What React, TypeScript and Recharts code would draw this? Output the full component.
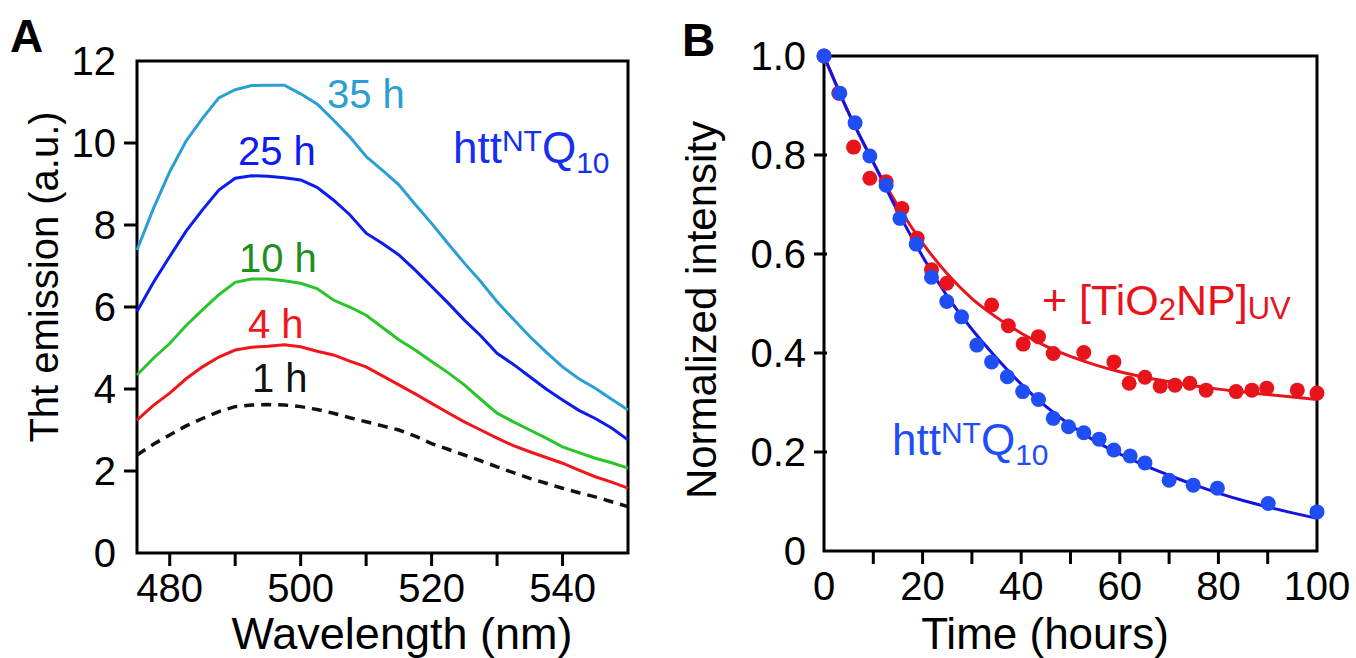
import { LineChart, ComposedChart, Line, Scatter, XAxis, YAxis, ReferenceArea } from 'recharts';

const FONT = '"Liberation Sans", Arial, Helvetica, sans-serif';

// Panel A: ThT emission spectra
const wavelengths = [475, 477.5, 480, 482.5, 485, 487.5, 490, 492.5, 495, 497.5, 500, 502.5, 505, 507.5, 510, 512.5, 515, 517.5, 520, 522.5, 525, 527.5, 530, 532.5, 535, 537.5, 540, 542.5, 545, 547.5, 550];
const emission1h = [2.39, 2.65, 2.88, 3.1, 3.28, 3.45, 3.57, 3.61, 3.62, 3.61, 3.57, 3.5, 3.41, 3.3, 3.2, 3.1, 3.0, 2.85, 2.67, 2.53, 2.39, 2.25, 2.1, 1.96, 1.82, 1.7, 1.58, 1.47, 1.37, 1.25, 1.13];
const emission4h = [3.24, 3.6, 3.9, 4.25, 4.54, 4.78, 4.95, 5.02, 5.04, 5.08, 5.03, 4.92, 4.83, 4.68, 4.54, 4.32, 4.1, 3.88, 3.65, 3.42, 3.2, 3.0, 2.8, 2.62, 2.47, 2.33, 2.19, 2.02, 1.86, 1.73, 1.58];
const emission10h = [4.34, 4.75, 5.11, 5.55, 5.93, 6.3, 6.6, 6.68, 6.68, 6.64, 6.58, 6.45, 6.17, 6.0, 5.8, 5.5, 5.2, 4.95, 4.67, 4.4, 4.1, 3.75, 3.41, 3.2, 3.0, 2.8, 2.59, 2.45, 2.31, 2.2, 2.07];
const emission25h = [5.89, 6.6, 7.23, 7.85, 8.37, 8.85, 9.14, 9.2, 9.19, 9.15, 9.1, 8.92, 8.61, 8.25, 7.8, 7.55, 7.27, 6.9, 6.5, 6.1, 5.68, 5.3, 4.87, 4.6, 4.3, 4.0, 3.73, 3.48, 3.28, 3.05, 2.76];
const emission35h = [7.39, 8.4, 9.3, 10.05, 10.6, 11.1, 11.3, 11.4, 11.41, 11.41, 11.2, 10.95, 10.56, 10.15, 9.67, 9.33, 8.98, 8.5, 8.04, 7.55, 7.07, 6.62, 6.13, 5.7, 5.28, 4.9, 4.54, 4.25, 4.02, 3.75, 3.49];

const wavelengthTicks = [480, 490, 500, 510, 520, 530, 540];
const emissionTicks = [0, 2, 4, 6, 8, 10, 12];

// Panel B: normalized intensity vs time
const timesControl = [0, 3.2, 6.3, 9.3, 12.6, 15.4, 18.7, 21.8, 24.9, 27.9, 31.0, 34.0, 37.2, 40.3, 43.5, 46.5, 49.6, 52.7, 55.8, 58.8, 62.1, 65.1, 70.0, 74.9, 79.8, 90.1, 100];
const intensityControl = [1.0, 0.925, 0.865, 0.798, 0.739, 0.672, 0.62, 0.553, 0.504, 0.473, 0.416, 0.382, 0.352, 0.322, 0.306, 0.268, 0.251, 0.239, 0.226, 0.204, 0.192, 0.178, 0.143, 0.133, 0.127, 0.096, 0.079];
const timesTiO2 = [0, 3, 6, 9.3, 12.6, 15.8, 18.9, 21.8, 24.9, 34, 37.4, 40.4, 43.5, 46.5, 52.7, 58.8, 61.9, 65.1, 68.2, 71.2, 74.2, 77.5, 83.6, 86.8, 89.8, 96, 100];
const intensityTiO2 = [1.0, 0.925, 0.816, 0.753, 0.746, 0.692, 0.632, 0.568, 0.541, 0.497, 0.455, 0.418, 0.433, 0.399, 0.401, 0.382, 0.339, 0.351, 0.333, 0.335, 0.339, 0.325, 0.322, 0.325, 0.329, 0.325, 0.319];

const fitTimes = [0, 5, 10, 15, 20, 25, 30, 35, 40, 45, 50, 55, 60, 65, 70, 75, 80, 85, 90, 95, 100];
const fitControl = [1.0, 0.885, 0.785, 0.685, 0.595, 0.515, 0.448, 0.39, 0.337, 0.292, 0.254, 0.222, 0.196, 0.173, 0.153, 0.134, 0.117, 0.102, 0.089, 0.077, 0.066];
const fitTiO2 = [1.0, 0.885, 0.785, 0.697, 0.622, 0.56, 0.51, 0.472, 0.44, 0.414, 0.393, 0.376, 0.362, 0.351, 0.342, 0.334, 0.327, 0.321, 0.316, 0.311, 0.306];

const timeTicks = [0, 10, 20, 30, 40, 50, 60, 70, 80, 90, 100];
const intensityTicks = [0, 0.2, 0.4, 0.6, 0.8, 1.0];

const spectra = wavelengths.map((wl, i) => ({
  wl,
  h1: emission1h[i],
  h4: emission4h[i],
  h10: emission10h[i],
  h25: emission25h[i],
  h35: emission35h[i],
}));

const toPoints = (ts: number[], vs: number[]) => ts.map((t, i) => ({ t, v: vs[i] }));

const TICK_LEN = 13;
const TICK_GAP = 8;

const yTick = (ends: number[], fmt: (v: number) => string) => (props: any) => {
  const { x, y, payload } = props;
  const v = payload.value;
  return (
    <g>
      {!ends.includes(v) && (
        <line x1={x + TICK_GAP} x2={x + TICK_GAP + TICK_LEN} y1={y} y2={y} stroke="#000" strokeWidth={3} />
      )}
      <text x={x} y={y} dy="0.355em" textAnchor="end" fontSize={40} fontFamily={FONT} fill="#000">
        {fmt(v)}
      </text>
    </g>
  );
};

const xTick = (ends: number[], every: number) => (props: any) => {
  const { x, y, payload } = props;
  const v = payload.value;
  return (
    <g>
      {!ends.includes(v) && (
        <line x1={x} x2={x} y1={y - TICK_GAP - TICK_LEN} y2={y - TICK_GAP} stroke="#000" strokeWidth={3} />
      )}
      {v % every === 0 && (
        <text x={x} y={y} dy="0.71em" textAnchor="middle" fontSize={40} fontFamily={FONT} fill="#000">
          {v}
        </text>
      )}
    </g>
  );
};

const dot = (color: string) => (props: any) => <circle cx={props.cx} cy={props.cy} r={7.5} fill={color} />;

const PanelA = () => (
  <LineChart width={660} height={658} data={spectra} margin={{ top: 61, right: 32, bottom: 45, left: 67 }}>
    <XAxis
      dataKey="wl"
      type="number"
      domain={[475, 550]}
      ticks={wavelengthTicks}
      interval={0}
      height={60}
      axisLine={false}
      tickLine={false}
      tickSize={TICK_LEN}
      tickMargin={TICK_GAP}
      tick={xTick([], 20)}
    />
    <YAxis
      type="number"
      domain={[0, 12]}
      ticks={emissionTicks}
      interval={0}
      width={70}
      axisLine={false}
      tickLine={false}
      tickSize={TICK_LEN}
      tickMargin={TICK_GAP}
      tick={yTick([0, 12], (v) => String(v))}
    />
    <ReferenceArea x1={475} x2={550} y1={0} y2={12} fill="none" stroke="#000" strokeWidth={3} />
    <Line dataKey="h1" type="linear" stroke="#111" strokeWidth={3.5} strokeDasharray="10 7" dot={false} isAnimationActive={false} />
    <Line dataKey="h4" type="linear" stroke="#f2161a" strokeWidth={3} dot={false} isAnimationActive={false} />
    <Line dataKey="h10" type="linear" stroke="#2bc42b" strokeWidth={3} dot={false} isAnimationActive={false} />
    <Line dataKey="h25" type="linear" stroke="#0c1cf0" strokeWidth={3} dot={false} isAnimationActive={false} />
    <Line dataKey="h35" type="linear" stroke="#2a9fd4" strokeWidth={3} dot={false} isAnimationActive={false} />
  </LineChart>
);

const PanelB = () => (
  <ComposedChart width={676} height={658} margin={{ top: 56, right: 39, bottom: 47, left: 64 }}>
    <XAxis
      dataKey="t"
      type="number"
      domain={[0, 100]}
      ticks={timeTicks}
      interval={0}
      height={60}
      axisLine={false}
      tickLine={false}
      tickSize={TICK_LEN}
      tickMargin={TICK_GAP}
      tick={xTick([0, 100], 20)}
    />
    <YAxis
      dataKey="v"
      type="number"
      domain={[0, 1]}
      ticks={intensityTicks}
      interval={0}
      width={80}
      axisLine={false}
      tickLine={false}
      tickSize={TICK_LEN}
      tickMargin={5}
      tick={yTick([0, 1], (v) => (v === 0 ? '0' : v.toFixed(1)))}
    />
    <ReferenceArea x1={0} x2={100} y1={0} y2={1} fill="none" stroke="#000" strokeWidth={3} />
    <Line data={toPoints(fitTimes, fitTiO2)} dataKey="v" type="monotone" stroke="#e8141c" strokeWidth={3} dot={false} isAnimationActive={false} />
    <Scatter data={toPoints(timesTiO2, intensityTiO2)} dataKey="v" shape={dot('#e8141c')} isAnimationActive={false} />
    <Line data={toPoints(fitTimes, fitControl)} dataKey="v" type="monotone" stroke="#1414e0" strokeWidth={3} dot={false} isAnimationActive={false} />
    <Scatter data={toPoints(timesControl, intensityControl)} dataKey="v" shape={dot('#1f4ef5')} isAnimationActive={false} />
  </ComposedChart>
);

const Annotations = () => (
  <svg width={1356} height={658} style={{ position: 'absolute', left: 0, top: 0, pointerEvents: 'none' }} fontFamily={FONT}>
    <text x={10} y={52} fontSize={46} fontWeight="bold">A</text>
    <text x={682} y={56} fontSize={46} fontWeight="bold">B</text>

    <text transform="rotate(-90 58 277)" x={58} y={277} fontSize={40} textAnchor="middle">Tht emission (a.u.)</text>
    <text x={402} y={649} fontSize={45} textAnchor="middle">Wavelength (nm)</text>
    <text transform="rotate(-90 716 310)" x={716} y={310} fontSize={42} textAnchor="middle">Normalized intensity</text>
    <text x={1045} y={649} fontSize={44} textAnchor="middle">Time (hours)</text>

    <text x={327} y={108} fontSize={40} fill="#2a9fd4">35 h</text>
    <text x={238} y={165} fontSize={40} fill="#0c1cf0">25 h</text>
    <text x={239} y={272} fontSize={40} fill="#1f8f1f">10 h</text>
    <text x={248} y={338} fontSize={40} fill="#f2161a">4 h</text>
    <text x={252} y={392} fontSize={40} fill="#111">1 h</text>

    <text x={453} y={163} fontSize={44} fill="#1530f0">
      htt<tspan dy={-12} fontSize={30}>NT</tspan>
      <tspan dy={12} fontSize={44}>Q</tspan>
      <tspan dy={10} fontSize={30}>10</tspan>
    </text>

    <text x={892} y={455} fontSize={44} fill="#1f4ef5">
      htt<tspan dy={-12} fontSize={30}>NT</tspan>
      <tspan dy={12} fontSize={44}>Q</tspan>
      <tspan dy={10} fontSize={30}>10</tspan>
    </text>

    <text x={1042} y={315} fontSize={43} fill="#e8141c">
      + [TiO<tspan dy={5} fontSize={31}>2</tspan>
      <tspan dy={-5} fontSize={43}>NP]</tspan>
      <tspan dy={4} fontSize={31}>UV</tspan>
    </text>
  </svg>
);

export default function App() {
  return (
    <div style={{ position: 'absolute', left: 0, top: 0, width: 1356, height: 658, background: '#fff' }}>
      <div style={{ position: 'absolute', left: 0, top: 0 }}>
        <PanelA />
      </div>
      <div style={{ position: 'absolute', left: 680, top: 0 }}>
        <PanelB />
      </div>
      <Annotations />
    </div>
  );
}
